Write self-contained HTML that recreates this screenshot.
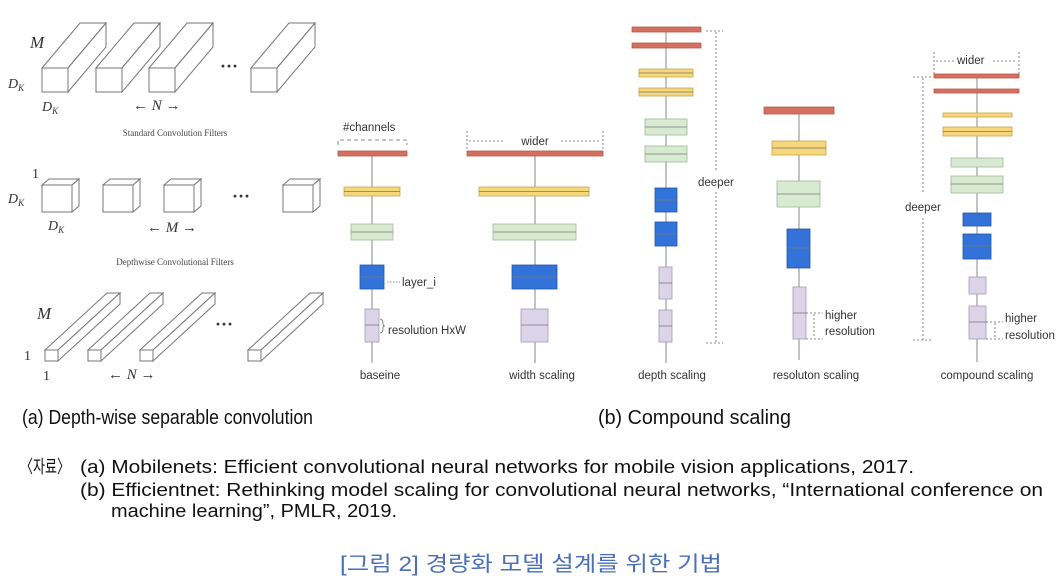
<!DOCTYPE html>
<html><head><meta charset="utf-8"><style>
html,body{margin:0;padding:0;background:#fff;width:1064px;height:580px;overflow:hidden}
svg{display:block}
.s{font-family:"Liberation Serif",serif}
.a{font-family:"Liberation Sans",sans-serif}
.k{font-family:"Liberation Sans","Noto Sans CJK KR",sans-serif}
</style></head><body>
<svg width="1064" height="580" viewBox="0 0 1064 580" xmlns="http://www.w3.org/2000/svg">
<defs>
<g id="sb" fill="#fff" stroke="#777" stroke-width="1">
 <polygon points="0,0 38,-45 64,-45 26,0"/>
 <polygon points="26,0 64,-45 64,-21 26,24"/>
 <rect x="0" y="0" width="26" height="24"/>
</g>
<g id="db" fill="#fff" stroke="#777" stroke-width="1">
 <polygon points="0,0 7,-6 37,-6 30,0"/>
 <polygon points="30,0 37,-6 37,21 30,27"/>
 <rect x="0" y="0" width="30" height="27"/>
</g>
<g id="pb" fill="#fff" stroke="#777" stroke-width="1">
 <polygon points="0,0 62,-57 75,-57 13,0"/>
 <polygon points="13,0 75,-57 75,-46 13,11"/>
 <rect x="0" y="0" width="13" height="11"/>
</g>
</defs>
<use href="#sb" x="42" y="68"/><use href="#sb" x="96" y="68"/><use href="#sb" x="149" y="68"/><use href="#sb" x="251" y="68"/>
<text x="220" y="72" class="s" font-size="18" font-weight="bold" fill="#333">···</text>
<text x="30" y="48" class="s" font-size="17" font-style="italic" fill="#333">M</text>
<text x="8" y="88" class="s" font-size="14" font-style="italic" fill="#333">D<tspan font-size="9" dy="3">K</tspan></text>
<text x="42" y="111" class="s" font-size="14" font-style="italic" fill="#333">D<tspan font-size="9" dy="3">K</tspan></text>
<text x="133" y="110" class="s" font-size="15" fill="#333">← <tspan font-style="italic">N</tspan> →</text>
<text x="175" y="136" class="s" font-size="9" fill="#444" text-anchor="middle">Standard Convolution Filters</text>

<use href="#db" x="42" y="185"/><use href="#db" x="103" y="185"/><use href="#db" x="164" y="185"/><use href="#db" x="283" y="185"/>
<text x="232" y="202" class="s" font-size="18" font-weight="bold" fill="#333">···</text>
<text x="32" y="178" class="s" font-size="14" fill="#333">1</text>
<text x="8" y="203" class="s" font-size="14" font-style="italic" fill="#333">D<tspan font-size="9" dy="3">K</tspan></text>
<text x="48" y="230" class="s" font-size="14" font-style="italic" fill="#333">D<tspan font-size="9" dy="3">K</tspan></text>
<text x="147" y="232" class="s" font-size="15" fill="#333">← <tspan font-style="italic">M</tspan> →</text>
<text x="175" y="265" class="s" font-size="9" fill="#444" text-anchor="middle">Depthwise Convolutional Filters</text>

<use href="#pb" x="45" y="350"/><use href="#pb" x="88" y="350"/><use href="#pb" x="140" y="350"/><use href="#pb" x="248" y="350"/>
<text x="215" y="330" class="s" font-size="18" font-weight="bold" fill="#333">···</text>
<text x="37" y="319" class="s" font-size="17" font-style="italic" fill="#333">M</text>
<text x="24" y="360" class="s" font-size="14" fill="#333">1</text>
<text x="43" y="380" class="s" font-size="14" fill="#333">1</text>
<text x="108" y="379" class="s" font-size="15" fill="#333">← <tspan font-style="italic">N</tspan> →</text>

<g stroke="#888" stroke-width="1" fill="none">
 <line x1="372" y1="151" x2="372" y2="363"/>
 <line x1="535" y1="151" x2="535" y2="363"/>
 <line x1="666" y1="27" x2="666" y2="363"/>
 <line x1="799" y1="107" x2="799" y2="360"/>
 <line x1="977" y1="74" x2="977" y2="362"/>
</g>
<g stroke-width="0.8">
<g fill="#d4705f" stroke="#b85a4a">
 <rect x="338" y="151" width="69" height="5"/>
 <rect x="467" y="151" width="136" height="5"/>
 <rect x="632" y="27" width="69" height="5"/>
 <rect x="632" y="43" width="69" height="5"/>
 <rect x="764" y="107" width="70" height="7"/>
 <rect x="934" y="74" width="85" height="4"/>
 <rect x="934" y="89" width="85" height="4"/>
</g>
<g fill="#f6d77c" stroke="#c9a64a">
 <rect x="344" y="187" width="56" height="9"/>
 <rect x="479" y="187" width="110" height="9"/>
 <rect x="639" y="69" width="54" height="8"/>
 <rect x="639" y="88" width="54" height="8"/>
 <rect x="772" y="141" width="54" height="14"/>
 <rect x="943" y="113" width="69" height="4"/>
 <rect x="943" y="127" width="69" height="9"/>
</g>
<g fill="#d9ead3" stroke="#9fb89c">
 <rect x="351" y="224" width="42" height="16"/>
 <rect x="493" y="224" width="83" height="16"/>
 <rect x="645" y="119" width="42" height="16"/>
 <rect x="645" y="146" width="42" height="16"/>
 <rect x="777" y="181" width="43" height="26"/>
 <rect x="951" y="158" width="52" height="9"/>
 <rect x="951" y="176" width="52" height="17"/>
</g>
<g fill="#3373d9" stroke="#2055a8">
 <rect x="360" y="265" width="24" height="24"/>
 <rect x="512" y="265" width="45" height="24"/>
 <rect x="655" y="188" width="22" height="24"/>
 <rect x="655" y="222" width="22" height="24"/>
 <rect x="787" y="229" width="23" height="39"/>
 <rect x="963" y="213" width="28" height="13"/>
 <rect x="963" y="234" width="28" height="25"/>
</g>
<g fill="#dcd5ea" stroke="#a099b5">
 <rect x="365" y="309" width="14" height="33"/>
 <rect x="521" y="309" width="27" height="33"/>
 <rect x="659" y="267" width="13" height="32"/>
 <rect x="659" y="310" width="13" height="32"/>
 <rect x="793" y="287" width="13" height="52"/>
 <rect x="969" y="277" width="17" height="17"/>
 <rect x="969" y="306" width="17" height="33"/>
</g>
</g>
<g stroke="#777" stroke-width="0.8">
 <line x1="344" y1="191.5" x2="400" y2="191.5"/><line x1="479" y1="191.5" x2="589" y2="191.5"/>
 <line x1="639" y1="73" x2="693" y2="73"/><line x1="639" y1="92" x2="693" y2="92"/>
 <line x1="772" y1="148" x2="826" y2="148"/><line x1="943" y1="131.5" x2="1012" y2="131.5"/>
 <line x1="351" y1="232" x2="393" y2="232"/><line x1="493" y1="232" x2="576" y2="232"/>
 <line x1="645" y1="127" x2="687" y2="127"/><line x1="645" y1="154" x2="687" y2="154"/>
 <line x1="777" y1="194" x2="820" y2="194"/><line x1="951" y1="184" x2="1003" y2="184"/>
 <line x1="360" y1="277" x2="384" y2="277"/><line x1="512" y1="277" x2="557" y2="277"/>
 <line x1="655" y1="200" x2="677" y2="200"/><line x1="655" y1="234" x2="677" y2="234"/>
 <line x1="787" y1="248" x2="810" y2="248"/><line x1="963" y1="246" x2="991" y2="246"/>
 <line x1="365" y1="325" x2="379" y2="325"/><line x1="521" y1="325" x2="548" y2="325"/>
 <line x1="659" y1="283" x2="672" y2="283"/><line x1="659" y1="326" x2="672" y2="326"/>
 <line x1="793" y1="313" x2="806" y2="313"/><line x1="969" y1="322" x2="986" y2="322"/>
</g>
<g stroke="#666" stroke-width="0.8" fill="none">
 <path d="M338,145 V140 H407 V145" stroke-dasharray="4,3"/>
 <line x1="467" y1="131" x2="467" y2="150" stroke-dasharray="2,2"/>
 <line x1="603" y1="131" x2="603" y2="150" stroke-dasharray="2,2"/>
 <line x1="469" y1="141" x2="505" y2="141" stroke-dasharray="2,2"/>
 <line x1="561" y1="141" x2="601" y2="141" stroke-dasharray="2,2"/>
 <line x1="387" y1="282" x2="400" y2="282" stroke-dasharray="1.5,1.5"/>
 <path d="M380,319 q3,0 3,5 q0,2 2,2 q-2,0 -2,2 q0,5 -3,5"/>
 <line x1="716" y1="32" x2="716" y2="172" stroke-dasharray="2,2"/>
 <line x1="716" y1="192" x2="716" y2="343" stroke-dasharray="2,2"/>
 <line x1="706" y1="31" x2="723" y2="31" stroke-dasharray="2,2"/>
 <line x1="706" y1="343" x2="723" y2="343" stroke-dasharray="2,2"/>
 <line x1="806" y1="313" x2="823" y2="313" stroke-dasharray="2,2"/>
 <line x1="806" y1="339" x2="823" y2="339" stroke-dasharray="2,2"/>
 <line x1="814" y1="314" x2="814" y2="338" stroke-dasharray="2,2"/>
 <line x1="934" y1="52" x2="934" y2="75" stroke-dasharray="2,2"/>
 <line x1="1019" y1="52" x2="1019" y2="75" stroke-dasharray="2,2"/>
 <line x1="936" y1="61" x2="954" y2="61" stroke-dasharray="2,2"/>
 <line x1="993" y1="61" x2="1017" y2="61" stroke-dasharray="2,2"/>
 <line x1="923" y1="78" x2="923" y2="193" stroke-dasharray="2,2"/>
 <line x1="923" y1="218" x2="923" y2="340" stroke-dasharray="2,2"/>
 <line x1="913" y1="77" x2="931" y2="77" stroke-dasharray="2,2"/>
 <line x1="913" y1="340" x2="931" y2="340" stroke-dasharray="2,2"/>
 <line x1="986" y1="322" x2="1003" y2="322" stroke-dasharray="2,2"/>
 <line x1="986" y1="339" x2="1003" y2="339" stroke-dasharray="2,2"/>
 <line x1="995" y1="323" x2="995" y2="338" stroke-dasharray="2,2"/>
</g>
<g class="a" font-size="11.5" fill="#333">
 <text x="343" y="131">#channels</text>
 <text x="535" y="145" text-anchor="middle">wider</text>
 <text x="402" y="286">layer_i</text>
 <text x="388" y="334">resolution HxW</text>
 <text x="380" y="379" text-anchor="middle">baseine</text>
 <text x="542" y="379" text-anchor="middle">width scaling</text>
 <text x="698" y="186">deeper</text>
 <text x="672" y="379" text-anchor="middle">depth scaling</text>
 <text x="825" y="319">higher</text>
 <text x="825" y="335">resolution</text>
 <text x="816" y="379" text-anchor="middle">resoluton scaling</text>
 <text x="957" y="64">wider</text>
 <text x="905" y="211">deeper</text>
 <text x="1005" y="322">higher</text>
 <text x="1005" y="339">resolution</text>
 <text x="987" y="379" text-anchor="middle">compound scaling</text>
</g>
<g class="k" fill="#111">
 <text x="22" y="424" font-size="20" textLength="291" lengthAdjust="spacingAndGlyphs">(a) Depth-wise separable convolution</text>
 <text x="598" y="424" font-size="20" textLength="193" lengthAdjust="spacingAndGlyphs">(b) Compound scaling</text>
 <text x="20" y="473" font-size="18" textLength="50" lengthAdjust="spacingAndGlyphs">〈자료〉</text>
 <text x="80" y="473" font-size="18.5" textLength="834" lengthAdjust="spacingAndGlyphs">(a) Mobilenets: Efficient convolutional neural networks for mobile vision applications, 2017.</text>
 <text x="80" y="496" font-size="18.5" textLength="963" lengthAdjust="spacingAndGlyphs">(b) Efficientnet: Rethinking model scaling for convolutional neural networks, “International conference on</text>
 <text x="111" y="517" font-size="18.5" textLength="286" lengthAdjust="spacingAndGlyphs">machine learning”, PMLR, 2019.</text>
 <text x="340" y="571" font-size="21" fill="#4a6fb8" textLength="382" lengthAdjust="spacingAndGlyphs">[그림 2] 경량화 모델 설계를 위한 기법</text>
</g>
</svg>
</body></html>
